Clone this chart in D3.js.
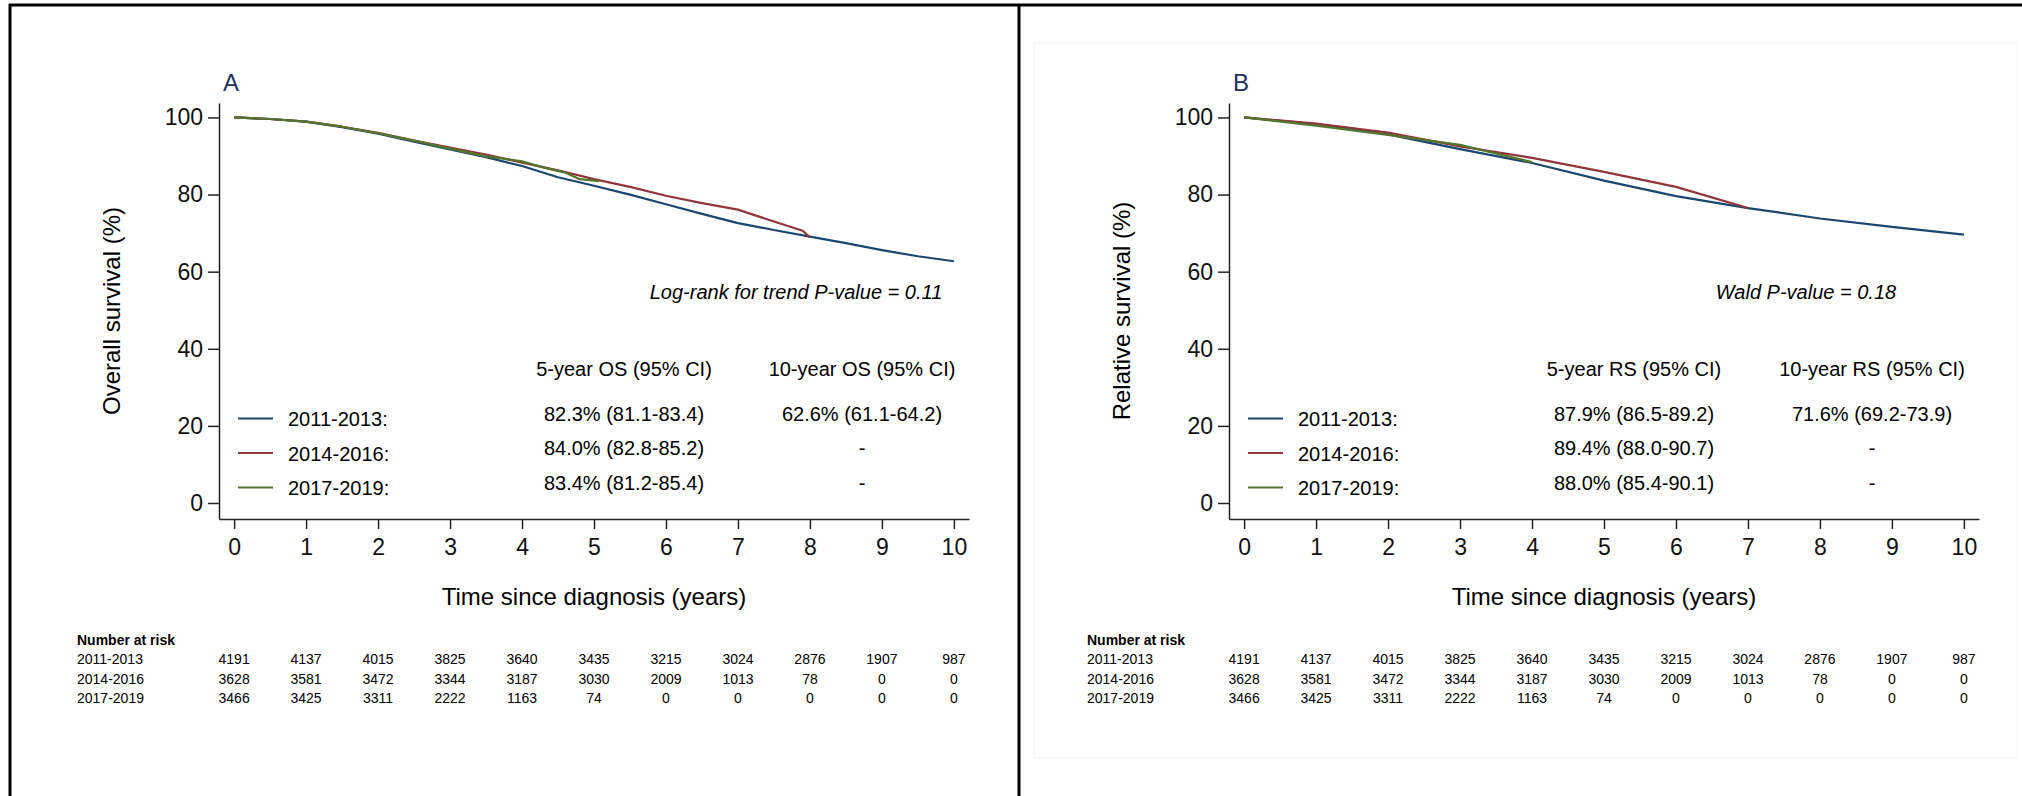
<!DOCTYPE html>
<html>
<head>
    <meta charset="utf-8">
    <title>Overall and relative survival by period of diagnosis</title>
    <script src="https://cdn.jsdelivr.net/npm/d3@7"></script>
    <style>
        body {
            margin: 0;
            background: white;
        }
        svg {
            display: block;
            font-family: "Liberation Sans", Arial, sans-serif;
        }
        .curve {
            fill: none;
            stroke-width: 2.2;
            stroke-linejoin: round;
        }
        .axis path, .axis line {
            stroke: #222;
            stroke-width: 1.5;
        }
        .axis text {
            fill: #111;
        }
    </style>
</head>
<body>
    <script>
        // Periods of diagnosis
        const groups = ["2011-2013", "2014-2016", "2017-2019"];

        // Axis ticks
        const xTicks = [0, 1, 2, 3, 4, 5, 6, 7, 8, 9, 10];
        const yTicks = [0, 20, 40, 60, 80, 100];

        // Panel A: overall survival (Kaplan-Meier), [years, %]
        const os2011 = [[0, 100], [0.5, 99.6], [1, 98.9], [1.5, 97.5], [2, 95.8], [2.5, 93.7], [3, 91.7],
            [3.5, 89.7], [4, 87.4], [4.5, 84.5], [5, 82.3], [5.5, 80.0], [6, 77.5], [6.5, 75.0], [7, 72.6],
            [7.5, 70.8], [8, 69.1], [8.5, 67.4], [9, 65.6], [9.5, 64.0], [10, 62.7]];
        const os2014 = [[0, 100], [0.5, 99.6], [1, 98.9], [1.5, 97.6], [2, 96.0], [2.5, 94.0], [3, 92.2],
            [3.5, 90.4], [4, 88.3], [4.5, 86.3], [5, 84.0], [5.5, 82.0], [6, 79.7], [6.5, 77.8], [7, 76.1],
            [7.5, 73.0], [7.9, 70.6], [8, 68.9]];
        const os2017 = [[0, 100], [0.5, 99.6], [1, 98.9], [1.5, 97.6], [2, 95.9], [2.5, 94.0], [3, 91.9],
            [3.5, 89.9], [4, 88.6], [4.3, 87.0], [4.6, 85.7], [4.8, 84.0], [5.07, 83.5]];

        // Panel B: relative survival, [years, %]
        const rs2011 = [[0, 100], [1, 98.3], [2, 95.6], [3, 91.8], [4, 88.2], [5, 83.6], [6, 79.6],
            [7, 76.5], [8, 73.8], [9, 71.6], [10, 69.6]];
        const rs2014 = [[0, 100], [1, 98.4], [2, 96.1], [3, 92.5], [4, 89.5], [5, 85.9], [6, 82.0], [7, 76.5]];
        const rs2017 = [[0, 100], [1, 97.9], [2, 95.5], [3, 92.9], [4, 88.4]];

        // Survival estimates shown in the legends
        const os5 = ["82.3% (81.1-83.4)", "84.0% (82.8-85.2)", "83.4% (81.2-85.4)"];
        const os10 = ["62.6% (61.1-64.2)", "-", "-"];
        const rs5 = ["87.9% (86.5-89.2)", "89.4% (88.0-90.7)", "88.0% (85.4-90.1)"];
        const rs10 = ["71.6% (69.2-73.9)", "-", "-"];

        // Number at risk at each year
        const risk2011 = [4191, 4137, 4015, 3825, 3640, 3435, 3215, 3024, 2876, 1907, 987];
        const risk2014 = [3628, 3581, 3472, 3344, 3187, 3030, 2009, 1013, 78, 0, 0];
        const risk2017 = [3466, 3425, 3311, 2222, 1163, 74, 0, 0, 0, 0, 0];

        const colors = ["#1a476f", "#90353b", "#55752f"];

        const svg = d3.select("body")
            .append("svg")
            .attr("width", 2022)
            .attr("height", 796);

        // outer frame (top, left, middle divider)
        svg.append("line").attr("x1", 9).attr("x2", 2022).attr("y1", 5).attr("y2", 5)
            .attr("stroke", "black").attr("stroke-width", 3);
        svg.append("line").attr("x1", 10).attr("x2", 10).attr("y1", 4).attr("y2", 796)
            .attr("stroke", "black").attr("stroke-width", 3);
        svg.append("line").attr("x1", 1019).attr("x2", 1019).attr("y1", 4).attr("y2", 796)
            .attr("stroke", "black").attr("stroke-width", 3);

        function drawPanel(dx, p) {
            const g = svg.append("g").attr("transform", `translate(${dx},0)`);

            // faint plot region box (only visible on panel B)
            if (p.box) {
                g.append("rect")
                    .attr("x", 24).attr("y", 43).attr("width", 983).attr("height", 715)
                    .attr("fill", "none").attr("stroke", "#f5f5f5");
            }

            const x = d3.scaleLinear().domain([-0.21, 10.21]).range([219, 969]);
            const y = d3.scaleLinear().domain([-4.15, 103.75]).range([519, 103]);

            const yAxis = g.append("g")
                .attr("class", "axis")
                .attr("transform", "translate(219,0)")
                .call(d3.axisLeft(y).tickValues(yTicks).tickSize(11).tickSizeOuter(0).tickPadding(5));

            const xAxis = g.append("g")
                .attr("class", "axis")
                .attr("transform", "translate(0,519)")
                .call(d3.axisBottom(x).tickValues(xTicks).tickSize(10).tickSizeOuter(0).tickPadding(10));

            [yAxis, xAxis].forEach(a => a
                .attr("font-size", 23)
                .attr("font-family", "Liberation Sans, Arial, sans-serif"));

            // panel letter
            g.append("text")
                .attr("x", 231).attr("y", 91)
                .attr("text-anchor", "middle")
                .attr("font-size", 24)
                .attr("fill", "#1e2f5e")
                .text(p.letter);

            // axis titles
            g.append("text")
                .attr("transform", "translate(120,311) rotate(-90)")
                .attr("text-anchor", "middle")
                .attr("font-size", 24)
                .text(p.yTitle);

            g.append("text")
                .attr("x", 594).attr("y", 605)
                .attr("text-anchor", "middle")
                .attr("font-size", 24)
                .text("Time since diagnosis (years)");

            // survival curves
            const line = d3.line()
                .x(d => x(d[0]))
                .y(d => y(d[1]));

            p.curves.forEach((c, i) => {
                g.append("path")
                    .datum(c)
                    .attr("class", "curve")
                    .attr("stroke", colors[i])
                    .attr("d", line);
            });

            // test annotation
            g.append("text")
                .attr("x", 796).attr("y", 299)
                .attr("text-anchor", "middle")
                .attr("font-size", 20)
                .attr("font-style", "italic")
                .text(p.test);

            // legend with estimates
            g.append("text")
                .attr("x", 624).attr("y", 376)
                .attr("text-anchor", "middle")
                .attr("font-size", 20)
                .text(p.head5);

            g.append("text")
                .attr("x", 862).attr("y", 376)
                .attr("text-anchor", "middle")
                .attr("font-size", 20)
                .text(p.head10);

            groups.forEach((grp, i) => {
                const ly = 418.5 + i * 34.5;
                g.append("line")
                    .attr("x1", 238).attr("x2", 273)
                    .attr("y1", ly).attr("y2", ly)
                    .attr("stroke", colors[i])
                    .attr("stroke-width", 2.2);
                g.append("text")
                    .attr("x", 288).attr("y", ly + 7.5)
                    .attr("font-size", 20)
                    .text(grp + ":");
                g.append("text")
                    .attr("x", 624).attr("y", ly + 2)
                    .attr("text-anchor", "middle")
                    .attr("font-size", 20)
                    .text(p.est5[i]);
                g.append("text")
                    .attr("x", 862).attr("y", ly + 2)
                    .attr("text-anchor", "middle")
                    .attr("font-size", 20)
                    .text(p.est10[i]);
            });

            // number at risk table
            g.append("text")
                .attr("x", 77).attr("y", 645)
                .attr("font-size", 14)
                .attr("font-weight", "bold")
                .text("Number at risk");

            [risk2011, risk2014, risk2017].forEach((row, i) => {
                const ry = 664 + i * 19.5;
                g.append("text")
                    .attr("x", 77).attr("y", ry)
                    .attr("font-size", 14)
                    .text(groups[i]);
                g.selectAll(null)
                    .data(row)
                    .join("text")
                    .attr("x", (d, j) => x(xTicks[j]))
                    .attr("y", ry)
                    .attr("text-anchor", "middle")
                    .attr("font-size", 14)
                    .text(d => d);
            });
        }

        drawPanel(0, {
            letter: "A",
            yTitle: "Overall survival (%)",
            curves: [os2011, os2014, os2017],
            test: "Log-rank for trend P-value = 0.11",
            head5: "5-year OS (95% CI)",
            head10: "10-year OS (95% CI)",
            est5: os5,
            est10: os10,
            box: false
        });

        drawPanel(1010, {
            letter: "B",
            yTitle: "Relative survival (%)",
            curves: [rs2011, rs2014, rs2017],
            test: "Wald P-value = 0.18",
            head5: "5-year RS (95% CI)",
            head10: "10-year RS (95% CI)",
            est5: rs5,
            est10: rs10,
            box: true
        });
    </script>
</body>
</html>
